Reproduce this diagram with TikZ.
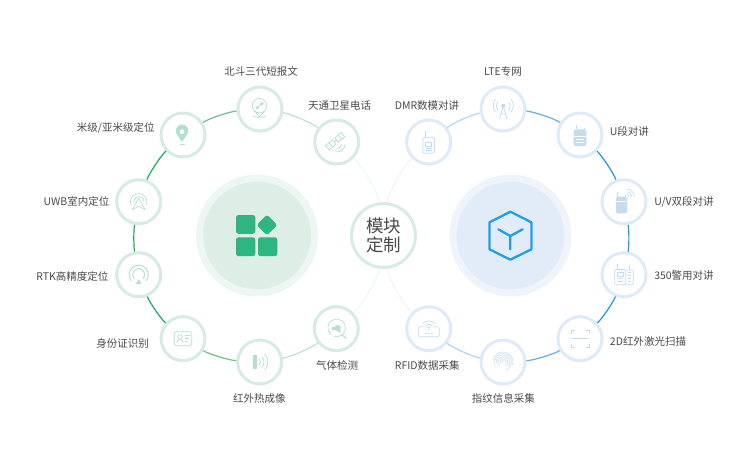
\documentclass[tikz,border=0pt]{standalone}
\usepackage{fontspec}
\setmainfont{Noto Sans CJK SC}
\definecolor{ringgreen}{HTML}{D6EBE3}
\definecolor{ringblue}{HTML}{DFEAF8}
\definecolor{haloleft}{HTML}{EEF6F3}
\definecolor{coreleft}{HTML}{DDEEE7}
\definecolor{haloright}{HTML}{EFF4FB}
\definecolor{coreright}{HTML}{E2ECF8}
\definecolor{icongreen}{HTML}{B3DFD0}
\definecolor{iconblue}{HTML}{C3DCEF}
\definecolor{tilegreen}{HTML}{2FB57F}
\definecolor{cubeblue}{HTML}{1F9FE4}
\definecolor{labelgray}{HTML}{4A4A4A}
\definecolor{gA}{HTML}{1FA962}
\definecolor{gB}{HTML}{6FC08F}
\definecolor{gC}{HTML}{BCE2C9}
\definecolor{gD}{HTML}{EFF7F3}
\definecolor{bA}{HTML}{1F97DF}
\definecolor{bB}{HTML}{62AEE8}
\definecolor{bC}{HTML}{B3D4F0}
\definecolor{bD}{HTML}{F0F5FB}
\tikzstyle{vertex}=[circle,fill=white,line width=3pt,minimum size=44pt,inner sep=0pt]
\tikzstyle{greenvertex}=[vertex,draw=ringgreen]
\tikzstyle{bluevertex}=[vertex,draw=ringblue]
\tikzstyle{bigvertex}=[circle,line width=7pt,minimum size=115pt,inner sep=0pt]
\tikzstyle{caption}=[font=\fontsize{10.5}{12}\selectfont,text=labelgray,inner sep=0pt]
\tikzstyle{arcedge}=[draw,line width=1.2pt,bend left=#1,looseness=0.52]
\tikzstyle{greenicon}=[y=1pt,color=icongreen,line width=0.7pt]
\tikzstyle{blueicon}=[y=1pt,color=iconblue,line width=0.7pt]

\begin{document}
\begin{tikzpicture}[x=1pt,y=-1pt]
    \useasboundingbox (0,0) rectangle (750,469);

    % First we draw the big circles
    \node[bigvertex,draw=haloleft,fill=coreleft] (leftcore) at (257,235.5) {};
    \node[bigvertex,draw=haloright,fill=coreright] (rightcore) at (510.5,235.5) {};
    \node[circle,fill=white,draw=ringgreen,line width=3pt,minimum size=64pt,inner sep=0pt,
          align=center,font=\fontsize{17.5}{19.5}\selectfont,text=labelgray] (custom) at (383.5,235.5) {模块\\定制};

    % Then the vertices with their names
    \foreach \pos/\name/\where/\label in {{(260,109)/beidou/(261,71.7)/北斗三代短报文}, {(336.7,142)/tiantong/(339.5,105.3)/天通卫星电话},
        {(183,135)/meter/(115.7,128.3)/{米级/亚米级定位}}, {(138.7,201.7)/uwb/(76.5,201.7)/UWB室内定位}, {(138.7,274.7)/rtk/(72.3,276)/RTK高精度定位},
        {(183,338.7)/idcard/(122.7,344)/身份证识别}, {(259.7,362)/thermal/(259.3,398.3)/红外热成像}, {(336.3,328.7)/gas/(337,365.7)/气体检测}}
    {
        \node[greenvertex] (\name) at \pos {};
        \node[caption] (label\name) at \where {\label};
    }
    \foreach \pos/\name/\where/\label in {{(428.7,142)/dmr/(427,105.3)/DMR数模对讲}, {(503,109)/lte/(503,71.7)/LTE专网},
        {(580,135)/useg/(629.3,131.7)/U段对讲}, {(624,201.7)/uvseg/(684,201.7)/{U/V双段对讲}}, {(624,274.7)/police/(684,276)/350警用对讲},
        {(580,338.7)/scan/(648,341.7)/2D红外激光扫描}, {(503,362)/finger/(503.3,398.3)/指纹信息采集}, {(428.7,328.7)/rfid/(427.3,365.7)/RFID数据采集}}
    {
        \node[bluevertex] (\name) at \pos {};
        \node[caption] (label\name) at \where {\label};
    }

    % Connect vertices with edges
    \foreach \source/\dest/\bend/\tint in {uwb/meter/13.2/gA, meter/beidou/13.7/gB, beidou/tiantong/14.2/gC, tiantong/custom/20/gD,
        rtk/uwb/10.2/gA, idcard/rtk/13.2/gA, thermal/idcard/13.7/gB, gas/thermal/14.2/gC, custom/gas/20/gD}
        \path[arcedge=\bend,color=\tint] (\source) to (\dest);
    \foreach \source/\dest/\bend/\tint in {custom/dmr/20/bD, dmr/lte/14.2/bC, lte/useg/13.7/bB, useg/uvseg/13.2/bA,
        uvseg/police/10.2/bA, police/scan/13.2/bA, scan/finger/13.7/bB, finger/rfid/14.2/bC, rfid/custom/20/bD}
        \path[arcedge=\bend,color=\tint] (\source) to (\dest);

    % The two big icons
    \foreach \corner in {(236,215), (236,237.3), (258,237.3)}
        \fill[tilegreen,rounded corners=2.5pt] \corner rectangle ++(19.3,18.8);
    \fill[tilegreen,rounded corners=2.5pt] (267,214.7) -- (277.3,225) -- (267,235.3) -- (256.7,225) -- cycle;
    \draw[cubeblue,line width=2.3pt,line join=round] (510.3,211.7) -- (531.4,222.3) -- (531.4,249.3) -- (510.3,259.7) -- (489.5,249.3) -- (489.5,222.3) -- cycle;
    \draw[cubeblue,line width=2.3pt,line cap=round] (498.3,229.3) -- (510.3,236) -- (522.7,229.3) (510.3,236) -- (510.3,249.3);

    % Small icons, green side
    \begin{scope}[shift={(beidou.center)},greenicon]
        \draw (-0.5,3.3) circle (7.3);
        \draw (-5.5,-2) -- (-0.5,-7.7) -- (4.5,-2);
        \draw (-7,-7) arc (200:340:6.8 and 2);
        \fill[rotate around={40:(-0.5,3.3)}] (-5,2.2) rectangle (-2,4.4) (1,2.2) rectangle (4,4.4);
        \draw[rotate around={40:(-0.5,3.3)}] (-2,3.3) -- (1,3.3);
    \end{scope}
    \begin{scope}[shift={(tiantong.center)},greenicon]
        \begin{scope}[shift={(-1.3,1)},rotate=40]
            \draw (-10.5,-2.8) rectangle (-6,2.8) (-6,-2.8) rectangle (-1.5,2.8) (1.5,-2.8) rectangle (6,2.8) (6,-2.8) rectangle (10,2.8);
            \draw (-1.5,0) -- (1.5,0);
        \end{scope}
        \draw (5,-2) arc (0:-90:4.5);
        \draw (8.5,-2) arc (0:-100:8);
    \end{scope}
    \begin{scope}[shift={(meter.center)},greenicon]
        \fill[even odd rule] (-1,-6.7) -- (-6.4,1) arc (210:-30:6.3) -- cycle (-1,3.3) circle (2.5);
        \draw[line width=1.2pt] (-3.5,-9.3) -- (1.5,-9.3);
    \end{scope}
    \begin{scope}[shift={(uwb.center)},greenicon]
        \draw (-7.8,-3) arc (200:-20:8.3);
        \draw (-5,-1) arc (190:-10:5.2);
        \draw[line join=round] (0,3.5) -- (-6.5,-8) -- (0,-4.5) -- (6.5,-8) -- cycle;
    \end{scope}
    \begin{scope}[shift={(rtk.center)},greenicon]
        \draw[line width=1pt] (-7.4,-6.2) arc (220:-40:9.6);
        \draw[line width=1pt] (-4.2,-4) arc (225:-45:5.9);
        \fill (0,-4.5) -- (-2.8,-9.5) -- (2.8,-9.5) -- cycle;
    \end{scope}
    \begin{scope}[shift={(idcard.center)},greenicon]
        \draw[rounded corners=1.5pt] (-8.7,-7) rectangle (8.7,7);
        \draw (-3,1.8) circle (2.2);
        \draw (-6.3,-4.3) arc (180:0:3.3 and 3.5);
        \draw (2,3) -- (7,3) (2,0) -- (6,0) (2,-3) -- (4,-3);
    \end{scope}
    \begin{scope}[shift={(thermal.center)},greenicon]
        \fill (-6.7,-7) rectangle (-2.7,7);
        \draw (-0.5,-3.2) arc (-45:45:4.5);
        \draw (2,-5.5) arc (-45:45:7.7);
        \draw (4.8,-8.3) arc (-45:45:11.7);
    \end{scope}
    \begin{scope}[shift={(gas.center)},greenicon]
        \draw (-2,-7.7) arc (-105:230:8.8);
        \draw[line width=1.1pt] (5.6,-5.8) -- (10,-10);
        \fill (1.5,0.8) circle (3);
        \fill (-4.5,-1.5) rectangle (0,1.5);
        \fill (3,-2.5) circle (1.5);
    \end{scope}

    % Small icons, blue side
    \begin{scope}[shift={(dmr.center)},blueicon]
        \draw[rounded corners=1.5pt] (-5.7,4.7) rectangle (5.7,-11.3);
        \draw (-3.3,4.7) -- (-3.3,11.3);
        \draw (-3,0) rectangle (3,-4);
        \draw (-3,-6.5) -- (3,-6.5) (-3,-8.5) -- (3,-8.5);
    \end{scope}
    \begin{scope}[shift={(lte.center)},blueicon]
        \fill (0.3,3.3) circle (2);
        \draw (0.3,3.3) -- (-3.5,-10) (0.3,3.3) -- (4,-10) (-2.2,-5) -- (2.8,-5);
        \draw (-5.2,-1) arc (220:140:6.5);
        \draw (5.8,-1) arc (-40:40:6.5);
        \draw (-7.5,-3) arc (220:140:10);
        \draw (8,-3) arc (-40:40:10);
    \end{scope}
    \begin{scope}[shift={(useg.center)},blueicon]
        \fill[rounded corners=1.5pt] (-6.3,5.7) rectangle (6.3,-11);
        \draw[line width=1pt] (-4,5.7) -- (-4,10) (4,5.7) -- (4,7.5);
        \draw[white] (-6.3,-1) -- (6.3,-1) (-4,-4.5) -- (4,-4.5) (-4,-7.5) -- (4,-7.5);
    \end{scope}
    \begin{scope}[shift={(uvseg.center)},blueicon]
        \fill[rounded corners=1.5pt] (-8,5) rectangle (3.3,-11.7);
        \draw[line width=1pt] (-6.3,5) -- (-6.3,10) (1,5) -- (1,7);
        \draw (5.2,5) arc (0:90:2.5);
        \draw (7.7,5) arc (0:90:5);
        \draw (10.2,5) arc (0:90:7.5);
        \draw[white] (-8,0) -- (3.3,0);
    \end{scope}
    \begin{scope}[shift={(police.center)},blueicon]
        \draw[rounded corners=1.5pt] (-9.3,5.3) rectangle (1.7,-10);
        \draw[rounded corners=1.5pt] (1.7,4.7) -- (9.3,4.7) -- (9.3,-10) -- (1.7,-10);
        \draw (-6.7,5.3) -- (-6.7,10.7) (5.5,4.7) -- (5.5,9.7);
        \draw (-6.5,2) rectangle (-1,-1.5);
        \draw (-6.5,-4) -- (-1,-4) (-6.5,-6.5) -- (-1,-6.5);
        \draw (4,2) -- (7,2) (4,-1) -- (7,-1) (4,-4) -- (7,-4) (4,-6.5) -- (7,-6.5);
    \end{scope}
    \begin{scope}[shift={(scan.center)},blueicon]
        \draw (-9,5) -- (-9,8.7) -- (-5,8.7) (5,8.7) -- (9,8.7) -- (9,5);
        \draw (-9,-5) -- (-9,-8.7) -- (-5,-8.7) (5,-8.7) -- (9,-8.7) -- (9,-5);
        \draw (-9,0) -- (9,0);
    \end{scope}
    \begin{scope}[shift={(finger.center)},blueicon,line width=0.5pt]
        \foreach \radius/\from/\to in {1.5/20/250, 3.2/-30/200, 5/-60/230, 6.8/-40/190, 8.5/-70/210, 10/-20/170}
            \draw (\from:\radius) arc (\from:\to:\radius);
    \end{scope}
    \begin{scope}[shift={(rfid.center)},blueicon]
        \draw[rounded corners=1.5pt] (-5,2) -- (-10.5,2) -- (-10.5,-8) -- (10.5,-8) -- (10.5,2) -- (5,2);
        \draw (-6.2,5.2) arc (135:45:8.8);
        \draw (-4,3) arc (135:45:5.6);
        \draw (-2,1) arc (135:45:2.8);
        \fill (0,-1) circle (1);
        \draw (-4,-4.5) -- (-2,-4.5) (-1,-4.5) -- (1,-4.5) (2,-4.5) -- (4,-4.5);
    \end{scope}

\end{tikzpicture}
\end{document}
